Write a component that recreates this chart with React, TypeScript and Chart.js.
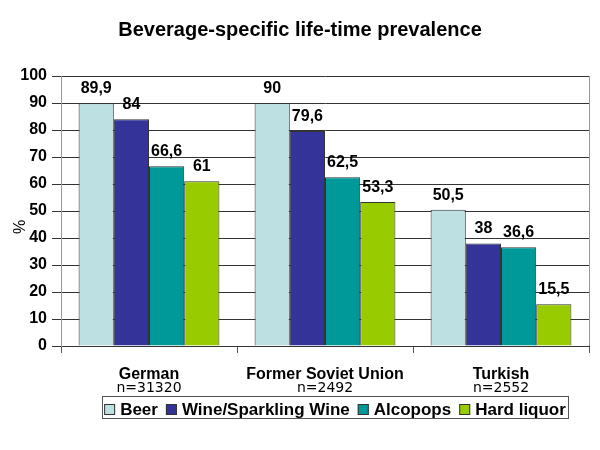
import React, { useEffect, useRef } from "react";
import { Chart, registerables } from "chart.js";

Chart.register(...registerables);

const categories = ["German", "Former Soviet Union", "Turkish"];
const sampleSizes = ["n=31320", "n=2492", "n=2552"];
const seriesNames = ["Beer", "Wine/Sparkling Wine", "Alcopops", "Hard liquor"];
const beer = [89.9, 90, 50.5];
const wine = [84, 79.6, 38];
const alcopops = [66.6, 62.5, 36.6];
const hardLiquor = [61, 53.3, 15.5];
const seriesColors = ["#BDE0E3", "#333399", "#009999", "#99CC00"];
const titleText = "Beverage-specific life-time prevalence";
const yAxisLabel = "%";

const fmt = (v: number) => String(v).replace(".", ",");

const customDraw = {
  id: "customDraw",
  afterDatasetsDraw(chart: any) {
    const ctx = chart.ctx as CanvasRenderingContext2D;
    const area = chart.chartArea;
    const xs = chart.scales.x;
    ctx.save();
    // right border
    ctx.strokeStyle = "#999999";
    ctx.lineWidth = 1;
    ctx.beginPath();
    ctx.moveTo(area.right + 0.5, area.top);
    ctx.lineTo(area.right + 0.5, area.bottom);
    ctx.stroke();

    // data labels
    ctx.fillStyle = "#000";
    ctx.font = "bold 16px Arial, 'Liberation Sans', sans-serif";
    ctx.textAlign = "center";
    ctx.textBaseline = "alphabetic";
    chart.data.datasets.forEach((ds: any, i: number) => {
      const meta = chart.getDatasetMeta(i);
      meta.data.forEach((bar: any, j: number) => {
        ctx.fillText(fmt(ds.data[j]), bar.x, bar.y - 10);
      });
    });

    // title
    ctx.font = "bold 20px Arial, 'Liberation Sans', sans-serif";
    ctx.fillText(titleText, 300, 36);

    // y axis title
    ctx.save();
    ctx.translate(25, 227);
    ctx.rotate(-Math.PI / 2);
    ctx.font = "16px Arial, 'Liberation Sans', sans-serif";
    ctx.textAlign = "center";
    ctx.fillText(yAxisLabel, 0, 0);
    ctx.restore();

    // category labels
    categories.forEach((c, j) => {
      const x = xs.getPixelForValue(j);
      ctx.font = "bold 16px Arial, 'Liberation Sans', sans-serif";
      ctx.fillText(c, x, 379);
      ctx.font = "14px 'DejaVu Sans', Verdana, sans-serif";
      ctx.fillText(sampleSizes[j], x, 392);
    });

    // legend
    ctx.font = "bold 17px Arial, 'Liberation Sans', sans-serif";
    ctx.textAlign = "left";
    const sq = 11, gapSq = 5, gapItem = 8;
    const widths = seriesNames.map((n) => ctx.measureText(n).width);
    const total = widths.reduce((a, b) => a + b, 0) + seriesNames.length * (sq + gapSq) + (seriesNames.length - 1) * gapItem;
    const boxL = 102, boxR = 568, boxT = 396, boxB = 418;
    ctx.strokeStyle = "#555";
    ctx.strokeRect(boxL + 0.5, boxT + 0.5, boxR - boxL, boxB - boxT);
    let x = (boxL + boxR) / 2 - total / 2;
    seriesNames.forEach((n, i) => {
      ctx.fillStyle = seriesColors[i];
      ctx.fillRect(x, 404, sq, sq);
      ctx.strokeStyle = "#333";
      ctx.strokeRect(x + 0.5, 404.5, sq - 1, sq - 1);
      x += sq + gapSq;
      ctx.fillStyle = "#000";
      ctx.fillText(n, x, 415);
      x += widths[i] + gapItem;
    });
    ctx.restore();
  },
};

export default function App() {
  const ref = useRef<HTMLCanvasElement>(null);
  useEffect(() => {
    if (!ref.current) return;
    const all = [beer, wine, alcopops, hardLiquor];
    const chart = new Chart(ref.current, {
      type: "bar",
      data: {
        labels: categories,
        datasets: all.map((d, i) => ({
          label: seriesNames[i],
          data: d,
          backgroundColor: seriesColors[i],
          borderColor: "#333333",
          borderWidth: 1,
          barPercentage: 1,
          categoryPercentage: 0.8,
        })),
      },
      options: {
        responsive: false,
        animation: false,
        layout: { padding: { top: 76, right: 11, bottom: 0, left: 0 } },
        plugins: { legend: { display: false }, title: { display: false }, tooltip: { enabled: false } },
        scales: {
          x: {
            ticks: { display: false },
            grid: { offset: true, drawOnChartArea: false, color: "#555", tickLength: 7 },
            border: { color: "#333", width: 1 },
            afterFit: (s: any) => { s.height = 104; },
          },
          y: {
            min: 0,
            max: 100,
            ticks: {
              stepSize: 10,
              color: "#000",
              padding: 5,
              font: { family: "Arial, 'Liberation Sans', sans-serif", size: 16, weight: "bold" },
            },
            grid: { color: "#333", tickLength: 9 },
            border: { color: "#999", width: 1 },
            afterFit: (s: any) => { s.width = 61; },
          },
        },
      },
      plugins: [customDraw],
    });
    return () => chart.destroy();
  }, []);
  return (
    <div style={{ position: "fixed", left: 0, top: 0, width: 600, height: 450, background: "#fff" }}>
      <canvas ref={ref} width={600} height={450} />
    </div>
  );
}
